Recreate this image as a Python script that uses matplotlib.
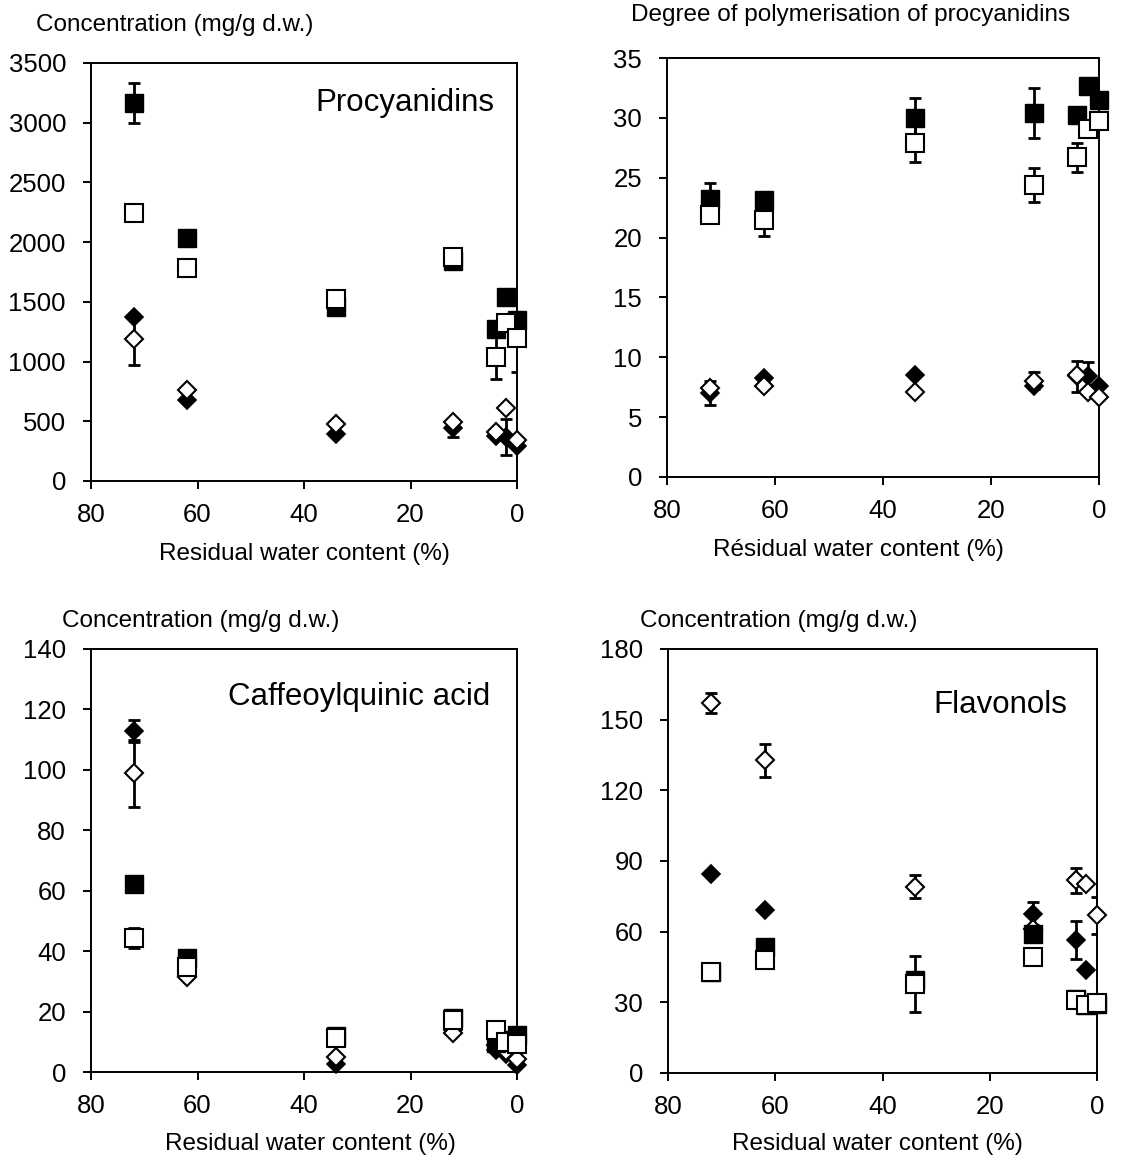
import numpy as np
import matplotlib
matplotlib.use("Agg")
import matplotlib.pyplot as plt

plt.rcParams['font.family'] = ['Liberation Sans', 'DejaVu Sans']

# ---------------- data ----------------
water = [72, 62, 34, 12, 4, 2, 0]

# Procyanidins (mg/g d.w.)
pc_fsq = [3165, 2032, 1460, 1845, 1270, 1538, 1348]
pc_fsq_err = [165, 0, 0, 0, 0, 0, 0]
pc_osq = [2242, 1781, 1521, 1879, 1036, 1321, 1195]
pc_osq_err = [0, 0, 0, 0, 180, 0, 280]
pc_fdi = [1375, 677, 397, 441, 380, 365, 290]
pc_fdi_err = [20, 0, 0, 70, 0, 150, 0]
pc_odi = [1185, 760, 481, 495, 413, 612, 343]
pc_odi_err = [215, 0, 0, 0, 0, 0, 0]

# Degree of polymerisation
dp_fsq = [23.2, 23.1, 29.95, 30.4, 30.2, 32.7, 31.5]
dp_fsq_err = [1.4, 0, 1.7, 2.1, 0, 0, 1.6]
dp_osq = [21.9, 21.5, 27.9, 24.4, 26.7, 29.1, 29.7]
dp_osq_err = [0, 1.4, 1.6, 1.45, 1.2, 0, 0.8]
dp_fdi = [7.0, 8.26, 8.5, 7.56, 8.4, 8.4, 7.56]
dp_fdi_err = [1.0, 0, 0, 0, 1.3, 1.2, 0]
dp_odi = [7.4, 7.6, 7.1, 8.06, 8.5, 7.14, 6.7]
dp_odi_err = [0, 0, 0, 0.75, 0, 0, 0]

# Caffeoylquinic acid (mg/g d.w.)
cq_fsq = [62.1, 37.8, 12.0, 18.0, 9.5, 10.5, 12.2]
cq_fsq_err = [0, 0, 0, 0, 0, 0, 0]
cq_osq = [44.2, 34.9, 11.3, 17.1, 14.0, 10.0, 9.4]
cq_osq_err = [3.3, 0, 0, 0, 0, 0, 0]
cq_fdi = [112.9, 35.0, 2.8, 14.0, 7.2, 6.0, 2.2]
cq_fdi_err = [3.7, 0, 0, 0, 0, 0, 0]
cq_odi = [98.8, 31.6, 5.0, 12.9, 9.0, 7.0, 4.4]
cq_odi_err = [11.0, 0, 0, 0, 0, 0, 0]

# Flavonols (mg/g d.w.)
fl_fsq = [43.0, 53.7, 39.5, 59.2, 31.5, 29.0, 29.5]
fl_fsq_err = [0, 0, 0, 0, 0, 0, 0]
fl_osq = [42.9, 48.1, 37.9, 49.2, 30.9, 28.7, 29.7]
fl_osq_err = [0, 0, 11.8, 3.5, 0, 0, 0]
fl_fdi = [84.6, 69.3, 38.0, 67.7, 56.4, 43.9, 30.0]
fl_fdi_err = [0, 0, 0, 5.0, 8.0, 0, 0]
fl_odi = [157.0, 132.7, 79.0, 61.0, 81.8, 80.1, 67.0]
fl_odi_err = [4.2, 6.9, 4.9, 0, 5.4, 0, 7.9]

panels = [
    dict(rect=(91, 63, 517, 481), ymax=3500, ystep=500,
         series=[(pc_fdi, pc_fdi_err), (pc_odi, pc_odi_err), (pc_fsq, pc_fsq_err), (pc_osq, pc_osq_err)],
         title="Procyanidins", tpos=(0.948, 0.904),
         ylab="Concentration (mg/g d.w.)", ylpos=(36, 25),
         xlab="Residual water content (%)", xlpos=(304, 554)),
    dict(rect=(667, 58, 1099, 477), ymax=35, ystep=5,
         series=[(dp_fdi, dp_fdi_err), (dp_odi, dp_odi_err), (dp_fsq, dp_fsq_err), (dp_osq, dp_osq_err)],
         title=None, tpos=None,
         ylab="Degree of polymerisation of procyanidins", ylpos=(631, 15),
         xlab="Résidual water content (%)", xlpos=(858, 550)),
    dict(rect=(91, 649, 517, 1072), ymax=140, ystep=20,
         series=[(cq_fdi, cq_fdi_err), (cq_odi, cq_odi_err), (cq_fsq, cq_fsq_err), (cq_osq, cq_osq_err)],
         title="Caffeoylquinic acid", tpos=(0.937, 0.887),
         ylab="Concentration (mg/g d.w.)", ylpos=(62, 621),
         xlab="Residual water content (%)", xlpos=(310, 1144)),
    dict(rect=(668, 649, 1097, 1073), ymax=180, ystep=30,
         series=[(fl_fdi, fl_fdi_err), (fl_odi, fl_odi_err), (fl_fsq, fl_fsq_err), (fl_osq, fl_osq_err)],
         title="Flavonols", tpos=(0.93, 0.868),
         ylab="Concentration (mg/g d.w.)", ylpos=(640, 621),
         xlab="Residual water content (%)", xlpos=(877, 1144)),
]

styles = [
    dict(marker='D', ms=9.0, mfc='black', mec='black', mew=1.2),
    dict(marker='D', ms=9.0, mfc='white', mec='black', mew=1.5),
    dict(marker='s', ms=13.0, mfc='black', mec='black', mew=1.0),
    dict(marker='s', ms=13.0, mfc='white', mec='black', mew=1.5),
]

W, H = 1126, 1170
fig = plt.figure(figsize=(W / 100, H / 100), dpi=100)

for p in panels:
    l, t, r, b = p['rect']
    ax = fig.add_axes([l / W, 1 - b / H, (r - l) / W, (b - t) / H])
    x = np.array(water, dtype=float)
    for k, ((vals, errs), st) in enumerate(zip(p['series'], styles)):
        v = np.array(vals, dtype=float)
        e = np.array(errs, dtype=float)
        m = e > 0
        z = 3 + 2 * k
        if m.any():
            ax.errorbar(x[m], v[m], yerr=e[m], fmt='none', ecolor='black',
                        elinewidth=2.0, capsize=4.5, capthick=2.0, zorder=z)
        ax.plot(x, v, linestyle='none', zorder=z + 1, clip_on=False, **st)
    ax.set_xlim(80, 0)
    ax.set_ylim(0, p['ymax'])
    ax.set_xticks([80, 60, 40, 20, 0])
    ax.set_yticks(np.arange(0, p['ymax'] + p['ystep'] / 2, p['ystep']))
    ax.tick_params(direction='out', length=6, width=1.4, labelsize=18.5)
    ax.tick_params(axis='y', pad=12)
    ax.tick_params(axis='x', pad=10)
    for s in ax.spines.values():
        s.set_linewidth(1.4)
    if p['title']:
        ax.text(p['tpos'][0], p['tpos'][1], p['title'], transform=ax.transAxes,
                ha='right', va='center', fontsize=22.5)
    fig.text(p['ylpos'][0] / W, 1 - p['ylpos'][1] / H, p['ylab'],
             ha='left', va='center', fontsize=17.5)
    fig.text(p['xlpos'][0] / W, 1 - p['xlpos'][1] / H, p['xlab'],
             ha='center', va='center', fontsize=17.5)

fig.savefig("out.png", dpi=100, facecolor='white')
